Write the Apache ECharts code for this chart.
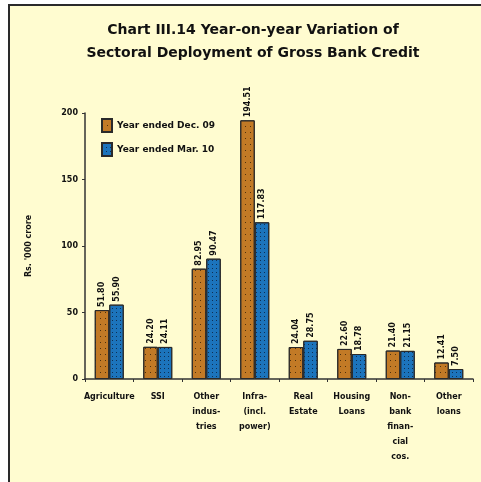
<!DOCTYPE html>
<html>
<head>
<meta charset="utf-8">
<script src="https://cdn.jsdelivr.net/npm/echarts@6/dist/echarts.min.js"></script>
<style>
  html, body { margin: 0; padding: 0; background: #ffffff; }
  #bg { position: absolute; left: 8px; top: 4px; width: 473px; height: 478px;
        background: #FFFCD0; border-left: 2px solid #2a2a2a; border-top: 2px solid #2a2a2a; box-sizing: border-box; }
  #chart { position: absolute; left: 0; top: 0; width: 481px; height: 482px; }
</style>
</head>
<body>
<div id="bg"></div>
<div id="chart"></div>
<script>
// Data
const titleText = "Chart III.14 Year-on-year Variation of\nSectoral Deployment of Gross Bank Credit";
const categories = ["Agriculture", "SSI", "Other\nindus-\ntries", "Infra-\n(incl.\npower)", "Real\nEstate", "Housing\nLoans", "Non-\nbank\nfinan-\ncial\ncos.", "Other\nloans"];
const seriesNames = ["Year ended Dec. 09", "Year ended Mar. 10"];
const orangeValues = [51.80, 24.20, 82.95, 194.51, 24.04, 22.60, 21.40, 12.41];
const blueValues = [55.90, 24.11, 90.47, 117.83, 28.75, 18.78, 21.15, 7.50];
const yTicks = [0, 50, 100, 150, 200];
const yAxisName = "Rs. '000 crore";

const chart = echarts.init(document.getElementById('chart'), null, { renderer: 'canvas' });
const fontFam = 'DejaVu Sans';
const labelCfg = {
  show: true, position: 'top', rotate: 90, align: 'left', verticalAlign: 'middle',
  distance: 3, fontSize: 8, fontWeight: 'bold', color: '#111', fontFamily: fontFam,
  formatter: p => p.value.toFixed(2)
};
chart.setOption({
  backgroundColor: 'transparent',
  animation: false,
  title: {
    text: titleText, left: 248, top: 14, textAlign: 'center',
    textStyle: { fontFamily: fontFam, fontSize: 14, fontWeight: 'bold', color: '#111', lineHeight: 23 }
  },
  legend: {
    orient: 'vertical', left: 96, top: 113, itemWidth: 10, itemHeight: 13, itemGap: 9,
    icon: 'rect',
    textStyle: { fontFamily: fontFam, fontSize: 9, fontWeight: 'bold', color: '#111' },
    data: seriesNames
  },
  grid: { left: 85, right: 8, top: 113, bottom: 103, containLabel: false },
  xAxis: {
    type: 'category', data: categories,
    axisLine: { lineStyle: { color: '#333', width: 1.5 } },
    axisTick: { show: true, length: 3, lineStyle: { color: '#333' } },
    axisLabel: { interval: 0, fontFamily: fontFam, fontSize: 8, fontWeight: 'bold', color: '#111', lineHeight: 15, margin: 10 }
  },
  yAxis: {
    type: 'value', min: yTicks[0], max: yTicks[yTicks.length - 1], interval: yTicks[1] - yTicks[0],
    name: yAxisName, nameLocation: 'middle', nameGap: 52, nameRotate: 90,
    nameTextStyle: { fontFamily: fontFam, fontSize: 8, fontWeight: 'bold', color: '#111' },
    splitLine: { show: false },
    axisLine: { show: true, lineStyle: { color: '#333', width: 1.5 } },
    axisTick: { show: true, length: 3, lineStyle: { color: '#333' } },
    axisLabel: { fontFamily: fontFam, fontSize: 8, fontWeight: 'bold', color: '#111', margin: 7 }
  },
  series: [
    {
      name: seriesNames[0], type: 'bar', data: orangeValues, barWidth: 14.5, barGap: '0%',
      itemStyle: {
        color: '#C27A26', borderColor: '#2a2a2a', borderWidth: 1,
        decal: { symbol: 'rect', symbolSize: 1, dashArrayX: [1, 4], dashArrayY: [1, 5], color: 'rgba(40,25,5,0.75)' }
      },
      label: labelCfg
    },
    {
      name: seriesNames[1], type: 'bar', data: blueValues, barWidth: 14.5,
      itemStyle: {
        color: '#1C74BC', borderColor: '#2a2a2a', borderWidth: 1,
        decal: { symbol: 'rect', symbolSize: 1, dashArrayX: [1, 3], dashArrayY: [1, 3], color: 'rgba(10,20,40,0.7)' }
      },
      label: labelCfg
    }
  ]
});
</script>
</body>
</html>
